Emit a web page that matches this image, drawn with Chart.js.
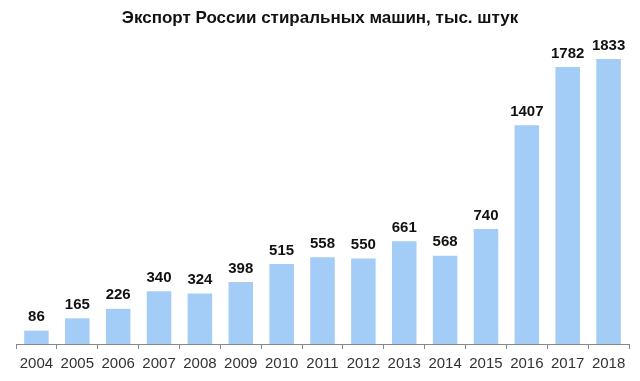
<!DOCTYPE html>
<html>
<head>
<meta charset="utf-8">
<script src="https://cdn.jsdelivr.net/npm/chart.js@4"></script>
<style>
  html, body { margin: 0; padding: 0; background: #fff; }
  #wrap { width: 640px; height: 381px; }
</style>
</head>
<body>
<div id="wrap"><canvas id="chart" width="640" height="381"></canvas></div>
<script>
const chartTitle = 'Экспорт России стиральных машин, тыс. штук';
const years = ['2004', '2005', '2006', '2007', '2008', '2009', '2010', '2011', '2012', '2013', '2014', '2015', '2016', '2017', '2018'];
const exportValues = [86, 165, 226, 340, 324, 398, 515, 558, 550, 661, 568, 740, 1407, 1782, 1833];

// подписи над столбцами + заголовок
const barLabels = {
  id: 'barLabels',
  afterDatasetsDraw(chart) {
    const ctx = chart.ctx;
    const meta = chart.getDatasetMeta(0);
    ctx.save();
    ctx.font = 'bold 15px "Liberation Sans", Arial, sans-serif';
    ctx.fillStyle = '#111';
    ctx.textAlign = 'center';
    ctx.textBaseline = 'bottom';
    meta.data.forEach((bar, i) => {
      ctx.fillText(exportValues[i], bar.x, bar.y - 6);
    });

    ctx.font = 'bold 17px "Liberation Sans", Arial, sans-serif';
    ctx.textBaseline = 'middle';
    ctx.fillText(chartTitle, 320, 18);
    ctx.restore();
  }
};

new Chart(document.getElementById('chart').getContext('2d'), {
  type: 'bar',
  data: {
    labels: years,
    datasets: [{
      data: exportValues,
      backgroundColor: '#a3cdf6',
      borderWidth: 0,
      barPercentage: 0.6,
      categoryPercentage: 1.0
    }]
  },
  options: {
    responsive: false,
    animation: false,
    layout: { padding: { left: 16, right: 11, top: 33, bottom: 2 } },
    plugins: {
      legend: { display: false },
      tooltip: { enabled: false },
      title: { display: false }
    },
    scales: {
      x: {
        offset: true,
        grid: { display: true, offset: true, drawOnChartArea: false, tickLength: 5, color: '#888' },
        border: { display: true, color: '#888' },
        ticks: { color: '#333', font: { family: '"Liberation Sans", Arial, sans-serif', size: 15 }, padding: 6, maxRotation: 0 }
      },
      y: {
        display: false,
        min: 0,
        max: 2000
      }
    }
  },
  plugins: [barLabels]
});
</script>
</body>
</html>
